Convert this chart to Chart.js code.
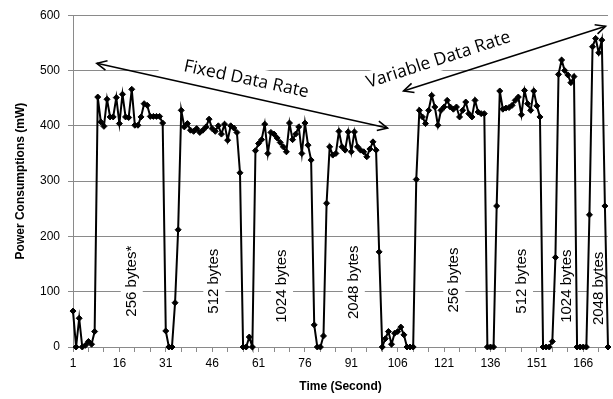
<!DOCTYPE html>
<html>
<head>
<meta charset="utf-8">
<script src="https://cdn.jsdelivr.net/npm/chart.js@4.4.1/dist/chart.umd.min.js"></script>
<style>
html, body { margin: 0; padding: 0; background: #fff; }
</style>
</head>
<body>
<canvas id="myChart" width="613" height="399"></canvas>
<script>
// time axis: one sample per second
const seconds = Array.from({ length: 174 }, (_, i) => String(i + 1));

// power readings (mW), fixed data rate part (s 1-111)
const fixedRate = [
	65, 0, 52, 0, 3, 10, 5, 28,
	452, 407, 399, 448, 416, 416, 451, 404, 457, 416, 415, 466, 401, 401, 416, 440, 437, 417, 417, 417, 417, 405,
	29, 0, 0, 80, 212,
	428, 398, 404, 392, 390, 395, 388, 392, 398, 412, 395, 390, 400, 385, 403, 374, 400, 396, 388,
	315, 0, 0, 18, 0,
	355, 368, 375, 403, 350, 388, 385, 378, 370, 362, 353, 405, 375, 385, 398, 350, 405, 365, 338,
	40, 0, 0, 20, 260,
	362, 347, 350, 390, 362, 356, 389, 353, 389, 362, 356, 353, 344, 358, 371, 356,
	172, 0, 15, 28, 5, 25, 28, 36, 22, 0, 0, 0
];
// variable data rate part (s 112-174)
const variableRate = [
	303,
	428, 416, 404, 428, 455, 434, 401, 428, 434, 446, 434, 430, 434, 416, 428, 443, 422, 416, 446, 425, 422, 422,
	0, 0, 0, 255,
	463, 430, 432, 433, 437, 446, 452, 420, 464, 440, 428, 463, 436, 416,
	0, 0, 0, 10, 162,
	493, 519, 500, 492, 478, 489,
	0, 0, 0, 0, 239,
	543, 558, 532, 555, 255, 0
];
const power = fixedRate.concat(variableRate);

// vertical packet size labels: text, x position (index), y value
const sizeLabels = ['256 bytes*', '512 bytes', '1024 bytes', '2048 bytes', '256 bytes', '512 bytes', '1024 bytes', '2048 bytes'];
const sizeLabelX = [19, 45.7, 67.6, 90.8, 123.3, 145.2, 159.7, 170];
const sizeLabelY = [119, 119, 110, 117, 121, 119, 110, 106];

const gridGray = '#8a8a8a';
const tickFont = { family: 'Liberation Sans, Arial, sans-serif', size: 12 };
const titleFont = { family: 'Liberation Sans, Arial, sans-serif', size: 12, weight: 'bold' };

function arrowHead(ctx, x0, y0, x1, y1) {
	var a = Math.atan2(y1 - y0, x1 - x0);
	var len = 11, spread = 0.45;
	ctx.beginPath();
	ctx.moveTo(x1 - len * Math.cos(a - spread), y1 - len * Math.sin(a - spread));
	ctx.lineTo(x1, y1);
	ctx.lineTo(x1 - len * Math.cos(a + spread), y1 - len * Math.sin(a + spread));
	ctx.stroke();
}

function doubleArrow(ctx, x0, y0, x1, y1) {
	ctx.beginPath();
	ctx.moveTo(x0, y0);
	ctx.lineTo(x1, y1);
	ctx.stroke();
	arrowHead(ctx, x0, y0, x1, y1);
	arrowHead(ctx, x1, y1, x0, y0);
}

function slantText(ctx, txt, cx, cy, angle, boxW, boxH) {
	ctx.save();
	ctx.translate(cx, cy);
	ctx.rotate(angle);
	ctx.fillStyle = '#fff';
	ctx.fillRect(-boxW / 2, -boxH / 2, boxW, boxH);
	ctx.fillStyle = '#000';
	ctx.font = '17.5px "Open Sans"';
	ctx.textAlign = 'center';
	ctx.textBaseline = 'middle';
	ctx.fillText(txt, 0, 0);
	ctx.restore();
}

const annotations = {
	id: 'annotations',
	beforeDatasetsDraw(chart) {
		const ctx = chart.ctx, xs = chart.scales.x, ys = chart.scales.y;
		ctx.save();
		ctx.font = '15px "Liberation Sans"';
		ctx.textAlign = 'center';
		ctx.textBaseline = 'middle';
		for (var i = 0; i < sizeLabels.length; i++) {
			var px = xs.getPixelForValue(sizeLabelX[i]);
			var py = ys.getPixelForValue(sizeLabelY[i]);
			var w = ctx.measureText(sizeLabels[i]).width;
			ctx.save();
			ctx.translate(px, py);
			ctx.rotate(-Math.PI / 2);
			ctx.fillStyle = '#fff';
			ctx.fillRect(-w / 2 - 4, -11, w + 8, 22);
			ctx.fillStyle = '#000';
			ctx.fillText(sizeLabels[i], 0, 0);
			ctx.restore();
		}
		slantText(ctx, 'Fixed Data Rate', xs.getPixelForValue(56), ys.getPixelForValue(484), 12 * Math.PI / 180, 175, 26);
		slantText(ctx, 'Variable Data Rate', xs.getPixelForValue(118.2), ys.getPixelForValue(519), -18 * Math.PI / 180, 165, 22);
		ctx.restore();
	},
	afterDatasetsDraw(chart) {
		const ctx = chart.ctx, xs = chart.scales.x, ys = chart.scales.y;
		ctx.save();
		ctx.strokeStyle = '#000';
		ctx.lineWidth = 1.6;
		doubleArrow(ctx, xs.getPixelForValue(7.7), ys.getPixelForValue(513), xs.getPixelForValue(101.7), ys.getPixelForValue(396));
		doubleArrow(ctx, xs.getPixelForValue(106.9), ys.getPixelForValue(463), xs.getPixelForValue(172.2), ys.getPixelForValue(580));
		ctx.restore();
	}
};

const ctx = document.getElementById('myChart');
const myChart = new Chart(ctx, {
	type: 'line',
	data: {
		labels: seconds,
		datasets: [{
			data: power,
			borderColor: '#000',
			backgroundColor: '#000',
			borderWidth: 2,
			tension: 0,
			pointStyle: 'rectRot',
			pointRadius: 3,
			pointBorderWidth: 1,
			clip: false
		}]
	},
	options: {
		responsive: false,
		animation: false,
		devicePixelRatio: 1,
		layout: { padding: { top: 15, right: 3, bottom: 0, left: 0 } },
		plugins: {
			legend: { display: false },
			tooltip: { enabled: false }
		},
		scales: {
			x: {
				type: 'category',
				offset: false,
				grid: { drawOnChartArea: false, tickLength: 5, color: gridGray },
				border: { color: gridGray },
				ticks: {
					autoSkip: false,
					maxRotation: 0,
					padding: 4,
					color: '#000',
					font: tickFont,
					callback: function(val, i) {
						if (i % 15 === 0) return this.getLabelForValue(val);
						return i % 5 === 0 ? '' : null;
					}
				},
				title: { display: true, text: 'Time (Second)', color: '#000', font: titleFont, padding: { top: 0, bottom: 5 } },
				afterFit: function(s) { s.height = 52; }
			},
			y: {
				min: 0,
				max: 600,
				grid: { color: gridGray, tickLength: 5 },
				border: { color: gridGray },
				ticks: { stepSize: 100, padding: 8, color: '#000', font: tickFont },
				title: { display: true, text: 'Power Consumptions (mW)', color: '#000', font: titleFont, padding: { top: 13, bottom: 0 } },
				afterFit: function(s) { s.width = 73; }
			}
		}
	},
	plugins: [annotations]
});
</script>
</body>
</html>
